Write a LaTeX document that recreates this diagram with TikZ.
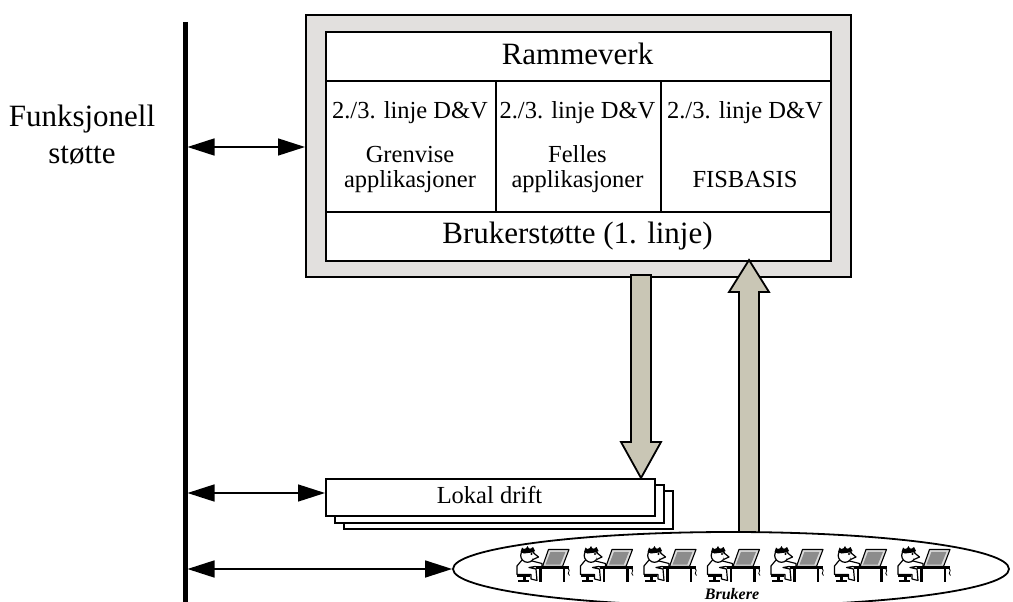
\documentclass[tikz,border=0pt]{standalone}
\usepackage{fontspec}
\setmainfont{Liberation Serif}
\usetikzlibrary{arrows.meta,shapes.geometric}
\definecolor{framegray}{HTML}{E2E0DE}
\definecolor{arrowfill}{HTML}{C9C6B5}
\definecolor{screengray}{HTML}{8C8C8C}
\definecolor{screenrim}{HTML}{DCDCDC}
\begin{document}
\begin{tikzpicture}[x=1pt,y=-1pt,
  bigtext/.style={font=\fontsize{31}{36}\selectfont, inner sep=0pt},
  midtext/.style={font=\fontsize{24.5}{29}\selectfont, inner sep=0pt},
  cell/.style={draw, line width=1.8pt, fill=white, inner sep=0pt, anchor=north west},
  stackbox/.style={draw, line width=1.8pt, fill=white, inner sep=0pt, anchor=north west,
    minimum width=329pt, minimum height=37pt},
  dbl/.style={line width=1.5pt,
    {Triangle[length=27pt,width=17pt]}-{Triangle[length=27pt,width=17pt]}},
  blockarrow/.style={draw, line width=1.8pt, fill=arrowfill, line join=miter},
  user/.pic={
    % stool
    \fill (3,27) rectangle (16,29.5);
    \fill (8.5,29) rectangle (11.5,35);
    \fill (4,33) rectangle (15,35);
    % body and legs
    \filldraw[fill=white, line width=1.2pt, line join=round]
      (8,13) -- (3,19) -- (3,27.5) -- (17,27.5) -- (17,32) -- (23,33.5) -- (22,22)
      -- (15,20.5) -- (21,19.5) -- (28,21) -- (28,16.5) -- (18,14) -- cycle;
    % head, nose, eye, hair
    \filldraw[fill=white, line width=1.2pt] (13.5,8.5) circle[radius=6.8];
    \filldraw[fill=white, line width=1.2pt, line join=round] (19,5.5) -- (24.5,10) -- (19,12.5);
    \fill (17.5,7) circle[radius=1.1];
    \fill (6.5,5) -- (8,0.5) -- (11,3) -- (13.5,-1) -- (15.5,2.5) -- (19,0) -- (21,4)
      -- (18,5.5) -- (10,6.5) -- cycle;
    % screen
    \filldraw[fill=screenrim, line width=1.1pt, line join=round]
      (28.5,19.5) -- (34.5,2.5) -- (55,2.5) -- (48.5,19.5) -- cycle;
    \fill[screengray] (31.5,17.5) -- (36.5,4.8) -- (51.5,4.8) -- (46.3,17.5) -- cycle;
    % desk
    \draw[line width=2.6pt] (22,20.5) -- (55,20.5);
    \draw[line width=2.6pt] (26.5,20.5) -- (26.5,35);
    \draw[line width=2.6pt] (50,20.5) -- (50,35);
    \draw[line width=0.8pt] (54,21.5) .. controls (57.5,24) and (52,25.5) .. (55.5,28.5);
  }]

\useasboundingbox (0,0) rectangle (1013,602);

% support axis on the left
\coordinate (vtop) at (185,22);
\coordinate (vbot) at (185,610);
\draw[line width=5pt] (vtop) -- (vbot);
\node[bigtext, anchor=base] (fs1) at (82,126) {Funksjonell};
\node[bigtext, anchor=base] (fs2) at (82,163) {støtte};

% framework block
\node[draw, fill=framegray, line width=1.8pt, inner sep=0pt, anchor=north west,
  minimum width=545pt, minimum height=262pt] (outer) at (305,14) {};
\node[cell, minimum width=505pt, minimum height=49pt] (ram) at (325,31) {};
\node[cell, minimum width=170pt, minimum height=131pt] (c1) at (325,80) {};
\node[cell, minimum width=165pt, minimum height=131pt] (c2) at (495,80) {};
\node[cell, minimum width=170pt, minimum height=131pt] (c3) at (660,80) {};
\node[cell, minimum width=505pt, minimum height=49pt] (bs) at (325,211) {};

\node[bigtext, anchor=base] (tram) at (577.5,65) {Rammeverk};
\node[bigtext, anchor=base] (tbs) at (577.5,243) {Brukerstøtte (1. linje)};
\node[midtext, anchor=base] (t1a) at (410,118) {2./3. linje D\&V};
\node[midtext, anchor=base] (t1b) at (410,162) {Grenvise};
\node[midtext, anchor=base] (t1c) at (410,187) {applikasjoner};
\node[midtext, anchor=base] (t2a) at (577.5,118) {2./3. linje D\&V};
\node[midtext, anchor=base] (t2b) at (577.5,162) {Felles};
\node[midtext, anchor=base] (t2c) at (577.5,187) {applikasjoner};
\node[midtext, anchor=base] (t3a) at (745,118) {2./3. linje D\&V};
\node[midtext, anchor=base] (t3c) at (745,187) {FISBASIS};

% local operations, stacked
\node[stackbox, minimum height=38pt] (lok3) at (343,490) {};
\node[stackbox, minimum height=38pt] (lok2) at (334,484) {};
\node[stackbox] (lok1) at (325,478) {};
\node[midtext, anchor=base] (tlok) at (489.5,503) {Lokal drift};

% flow down to local operations
\draw[blockarrow] (631,275) -- (631,442) -- (621,442) -- (641,478) -- (661,442)
  -- (651,442) -- (651,275) -- cycle;

% flow up from the users
\draw[blockarrow] (739,536) -- (739,292) -- (729,292) -- (749,260) -- (769,292)
  -- (759,292) -- (759,536) -- cycle;

% users
\node[draw, ellipse, line width=1.8pt, fill=white, inner sep=0pt,
  minimum width=556pt, minimum height=74pt] (users) at (731,569) {};
\foreach \i in {0,...,6}
  \pic at ({514+63.5*\i},547) {user};
\node[font=\fontsize{16}{18}\selectfont\bfseries\itshape, anchor=base, inner sep=0pt]
  (tusers) at (732,599) {Brukere};

% support relations
\coordinate (a1) at (187.5,147);
\coordinate (a2) at (187.5,493);
\coordinate (a3) at (187.5,569);
\draw[dbl] (a1) -- (a1 -| outer.west);
\draw[dbl] (a2) -- (a2 -| lok1.west);
\draw[dbl] (a3) -- (users.west);
\end{tikzpicture}
\end{document}
